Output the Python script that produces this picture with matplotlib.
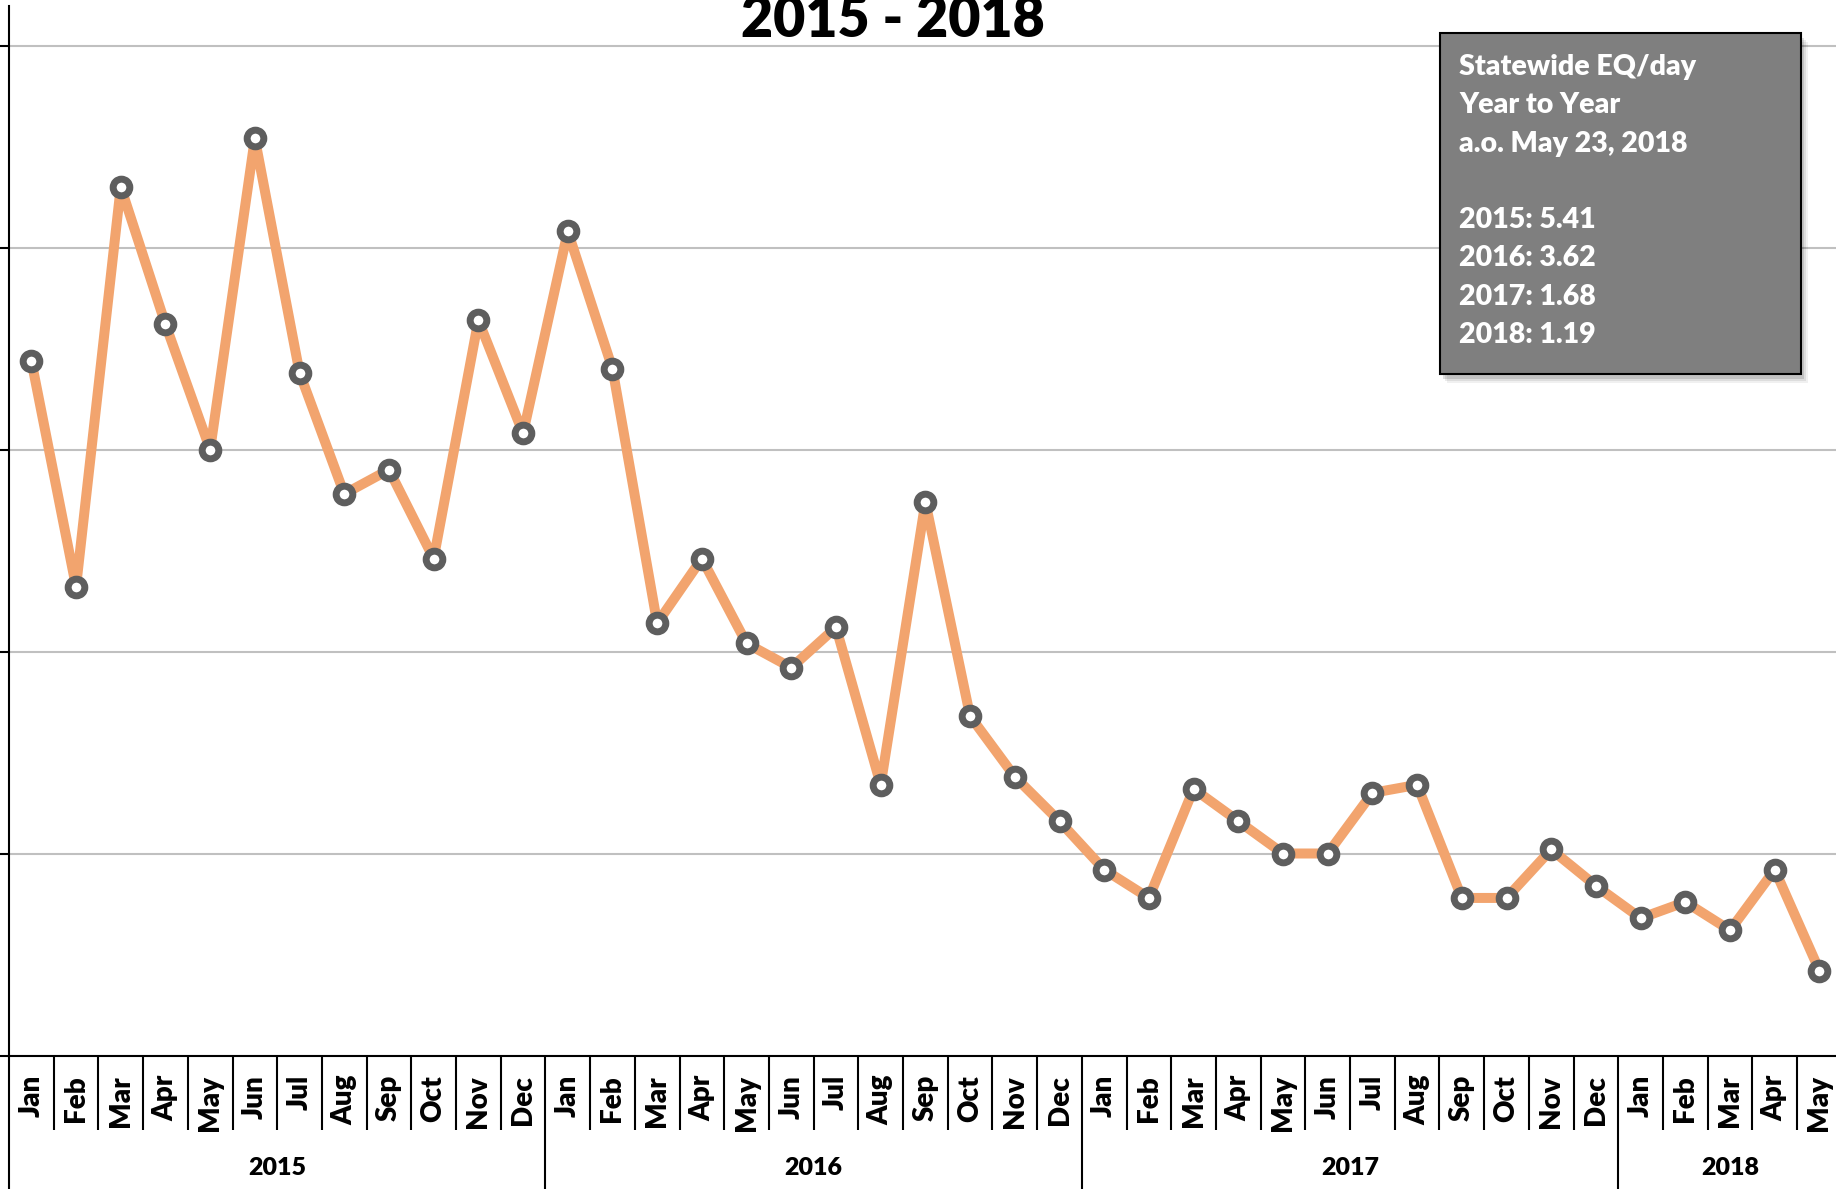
import matplotlib
matplotlib.use("Agg")
import matplotlib.pyplot as plt
from matplotlib.patches import Rectangle
from matplotlib.transforms import blended_transform_factory

# ---- data (monthly earthquake counts) ----
months = ["Jan", "Feb", "Mar", "Apr", "May", "Jun", "Jul", "Aug", "Sep", "Oct", "Nov", "Dec"]
years = ["2015", "2016", "2017", "2018"]
months_per_year = [12, 12, 12, 5]
counts_2015 = [172, 116, 215, 181, 150, 227, 169, 139, 145, 123, 182, 154]
counts_2016 = [204, 170, 107, 123, 102, 96, 106, 67, 137, 84, 69, 58]
counts_2017 = [46, 39, 66, 58, 50, 50, 65, 67, 39, 39, 51, 42]
counts_2018 = [34, 38, 31, 46, 21]
y_ticks = [0, 50, 100, 150, 200, 250]
title = "2015 - 2018"
info_lines = ["Statewide EQ/day", "Year to Year", "a.o. May 23, 2018", "",
              "2015: 5.41", "2016: 3.62", "2017: 1.68", "2018: 1.19"]

values = counts_2015 + counts_2016 + counts_2017 + counts_2018
labels = []
for n in months_per_year:
    labels += months[:n]
x = list(range(len(values)))

FONT = ["Lato", "DejaVu Sans"]
plt.rcParams["font.family"] = FONT
WEIGHT = "heavy"

W, H = 1836, 1189
fig = plt.figure(figsize=(W / 100, H / 100), dpi=100)
ax_bottom = (H - 1055.5) / H
ax_top_px = 6
ax = fig.add_axes([9 / W, ax_bottom, 1 - 9 / W, (1055.5 - ax_top_px) / H])

ax.plot(x, values, color="#F2A46E", lw=7.2, zorder=3, solid_joinstyle="round")
ax.plot(x, values, ls="none", marker="o", ms=12, mew=5, mfc="white",
        mec="#5E5E5E", zorder=4)

ax.set_xlim(-0.5, 40.37)
ax.set_ylim(0, (1055.5 - ax_top_px) / 4.04)
ax.set_yticks(y_ticks)
ax.yaxis.grid(True, color="#C0C0C0", lw=1.5)
ax.set_axisbelow(True)
ax.tick_params(axis="y", direction="out", length=6.5, width=1.5, labelleft=False)

ax.set_xticks(x)
ax.set_xticklabels(labels, rotation=90, fontsize=20, fontweight=WEIGHT,
                   va="top", ha="center")
ax.tick_params(axis="x", length=0, pad=14)

for s in ["top", "right"]:
    ax.spines[s].set_visible(False)
ax.spines["left"].set_linewidth(1.5)
ax.spines["bottom"].set_linewidth(1.5)

# category separators
trans = blended_transform_factory(ax.transData, ax.transAxes)
ax_h_px = 1055.5 - ax_top_px
month_sep = -(1130 - 1055.5) / ax_h_px
year_sep = -(1189 - 1055.5) / ax_h_px
year_bounds = [-0.5]
acc = -0.5
for n in months_per_year:
    acc += n
    year_bounds.append(acc)
for i in range(len(values) + 1):
    b = i - 0.5
    low = year_sep if b in year_bounds else month_sep
    ax.plot([b, b], [0, low], transform=trans, color="black", lw=1.5,
            clip_on=False, solid_capstyle="butt")

# year labels
start = 0
year_label_y = -(1168 - 1055.5) / ax_h_px
for yr, n in zip(years, months_per_year):
    ax.text(start + (n - 1) / 2, year_label_y, yr, transform=trans,
            ha="center", va="center", fontsize=18, fontweight=WEIGHT,
            clip_on=False)
    start += n

# title (partly cut off at top, as in reference)
fig.text(893 / W, 1 - 37 / H, title, ha="center", va="baseline",
         fontsize=40, fontweight=WEIGHT)

# info box with shadow
bx0, by0, bx1, by1 = 1440, 33, 1801, 374
for k, a in [(9, 0.06), (7, 0.08), (5, 0.12)]:
    fig.patches.append(Rectangle(((bx0 + k - 2) / W, 1 - (by1 + k) / H),
                                 (bx1 - bx0) / W, (by1 - by0) / H,
                                 transform=fig.transFigure, facecolor="black",
                                 alpha=a, edgecolor="none", zorder=5))
fig.patches.append(Rectangle((bx0 / W, 1 - by1 / H), (bx1 - bx0) / W,
                             (by1 - by0) / H, transform=fig.transFigure,
                             facecolor="#7F7F7F", edgecolor="black", lw=1.5,
                             zorder=6))
fig.text(1459 / W, 1 - 54 / H, "\n".join(info_lines), ha="left", va="top",
         fontsize=20.5, fontweight=WEIGHT, color="white", linespacing=1.585,
         zorder=7)

fig.savefig("out.png", dpi=100)
